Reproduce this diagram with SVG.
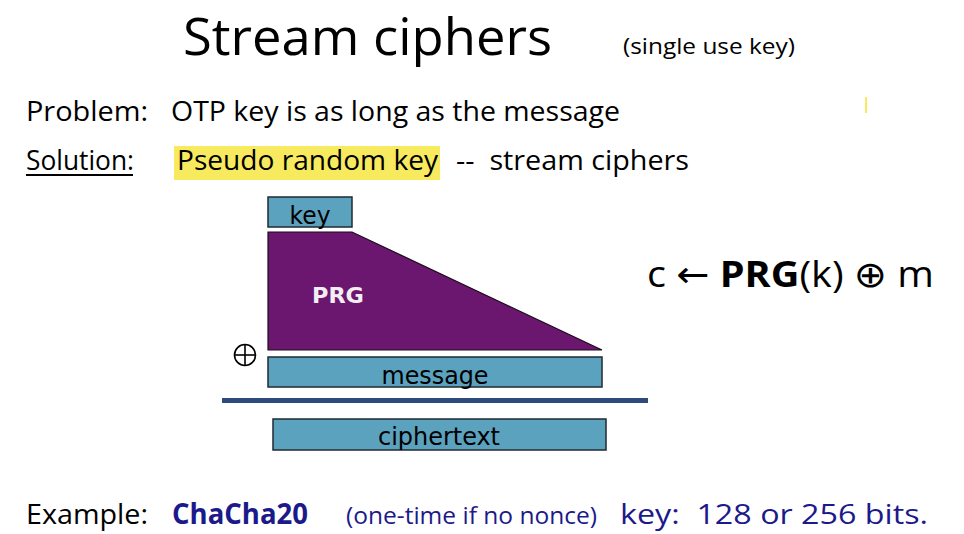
<svg xmlns="http://www.w3.org/2000/svg" width="964" height="534" viewBox="0 0 964 534">
<style>
text{white-space:pre}
.c{font-family:"Open Sans","Liberation Sans",sans-serif;fill:#000}
.v{font-family:"DejaVu Sans","Liberation Sans",sans-serif;fill:#000}
.box{fill:#5ba2bf;stroke:#1f2a30;stroke-width:1.5}
.navy{fill:#1c1a8a}
</style>
<rect width="964" height="534" fill="#fff"/>
<g id="title">
<text class="c" x="183" y="55" font-size="52" textLength="369" lengthAdjust="spacingAndGlyphs">Stream ciphers</text>
<text class="c" x="623" y="54" font-size="22" textLength="172" lengthAdjust="spacingAndGlyphs">(single use key)</text>
</g>
<rect x="865" y="97" width="2" height="16" fill="#f7ea5c"/>
<g id="problem">
<text class="c" x="26" y="121" font-size="28" textLength="122" lengthAdjust="spacingAndGlyphs">Problem:</text>
<text class="c" x="171" y="121" font-size="28" textLength="449" lengthAdjust="spacingAndGlyphs">OTP key is as long as the message</text>
</g>
<g id="solution">
<rect x="174" y="146" width="266" height="34" fill="#f8ea5e"/>
<text class="c" x="26" y="170" font-size="28" textLength="108" lengthAdjust="spacingAndGlyphs">Solution:</text>
<rect x="26" y="174" width="107" height="2" fill="#000"/>
<text class="c" x="177" y="170" font-size="28" textLength="261" lengthAdjust="spacingAndGlyphs">Pseudo random key</text>
<text class="c" x="456" y="170" font-size="28" textLength="233" lengthAdjust="spacingAndGlyphs">--  stream ciphers</text>
</g>
<g id="key">
<rect class="box" x="268" y="197" width="84" height="30"/>
<text class="v" x="310" y="224" font-size="25" text-anchor="middle" textLength="41" lengthAdjust="spacingAndGlyphs">key</text>
</g>
<g id="prg">
<polygon points="268,232 352,232 602,350 268,350" fill="#6b176f" stroke="#1a0a1a" stroke-width="1.2"/>
<text x="312" y="303" font-family="'DejaVu Sans','Liberation Sans',sans-serif" font-weight="bold" font-size="21" fill="#f2eef2" textLength="52" lengthAdjust="spacingAndGlyphs">PRG</text>
</g>
<g id="xor">
<circle cx="245" cy="355" r="10.5" fill="none" stroke="#000" stroke-width="1.6"/>
<line x1="234.5" y1="355" x2="255.5" y2="355" stroke="#000" stroke-width="1.6"/>
<line x1="245" y1="344.5" x2="245" y2="365.5" stroke="#000" stroke-width="1.6"/>
</g>
<g id="message">
<rect class="box" x="268" y="357" width="334" height="30"/>
<text class="v" x="435" y="384" font-size="25" text-anchor="middle" textLength="107" lengthAdjust="spacingAndGlyphs">message</text>
</g>
<g id="connectors">
<line x1="222" y1="400.5" x2="648" y2="400.5" stroke="#2e4a7c" stroke-width="5"/>
</g>
<g id="ciphertext">
<rect class="box" x="273" y="419" width="333" height="31"/>
<text class="v" x="439" y="445" font-size="25" text-anchor="middle" textLength="122" lengthAdjust="spacingAndGlyphs">ciphertext</text>
</g>
<g id="formula">
<text class="c" x="647" y="287" font-size="36" textLength="287" lengthAdjust="spacingAndGlyphs">c <tspan font-family="'DejaVu Sans',sans-serif">←</tspan> <tspan font-weight="bold">PRG</tspan>(k) <tspan font-family="'DejaVu Sans',sans-serif">⊕</tspan> m</text>
</g>
<g id="example">
<text class="c" x="26" y="524" font-size="28" textLength="122" lengthAdjust="spacingAndGlyphs">Example:</text>
<text class="c navy" x="172" y="524" font-size="28" font-weight="bold" textLength="136" lengthAdjust="spacingAndGlyphs">ChaCha20</text>
<text class="c navy" x="346" y="524" font-size="23" textLength="251" lengthAdjust="spacingAndGlyphs">(one-time if no nonce)</text>
<text class="c navy" x="620" y="524" font-size="28" textLength="308" lengthAdjust="spacingAndGlyphs">key:  128 or 256 bits.</text>
</g>
</svg>
